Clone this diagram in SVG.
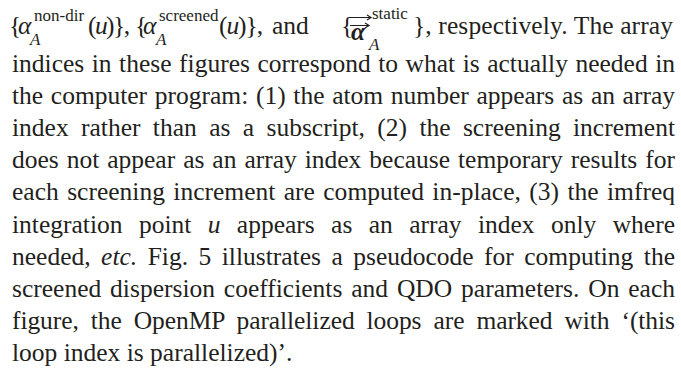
<svg xmlns="http://www.w3.org/2000/svg" width="681" height="368" viewBox="0 0 681 368">
<style>
text{font-family:"Liberation Serif","Times New Roman",serif;font-size:25.5px;fill:#231f20}
.it{font-style:italic}
.bi{font-style:italic;font-weight:bold}
.sm{font-size:17px}
.arr{stroke:#231f20;stroke-width:1.2;fill:none}
</style>
<rect width="681" height="368" fill="#ffffff"/>
<g id="line1">
<text x="9" y="34">{</text>
<text x="18" y="34" class="it" font-size="27">α</text>
<text x="34" y="21" class="sm">non-dir</text>
<text x="30" y="45" class="sm it">A</text>
<text x="88" y="34" textLength="42" lengthAdjust="spacing">(<tspan class="it">u</tspan>)},</text>
<text x="135" y="34">{</text>
<text x="143" y="34" class="it" font-size="27">α</text>
<text x="159" y="21" class="sm">screened</text>
<text x="156" y="45" class="sm it">A</text>
<text x="219" y="34" textLength="44" lengthAdjust="spacing">(<tspan class="it">u</tspan>)},</text>
<text x="272" y="34">and</text>
<text x="341" y="34">{</text>
<path class="arr" d="M349 17.5H371M367 15l4 2.5-4 2.5"/>
<text x="372" y="19" class="sm">static</text>
<path class="arr" d="M350 25.5H369M365 23l4 2.5-4 2.5"/>
<text x="351" y="40" class="bi">α</text>
<text x="369" y="50" class="sm it">A</text>
<text x="413" y="34" textLength="260" lengthAdjust="spacing">}, respectively. The array</text>
</g>
<g id="body">
<text x="12" y="72" word-spacing="1.1" textLength="663" lengthAdjust="spacing">indices in these figures correspond to what is actually needed in</text>
<text x="12" y="104.1" word-spacing="1.3" textLength="663" lengthAdjust="spacing">the computer program: (1) the atom number appears as an array</text>
<text x="12" y="136.2" word-spacing="6" textLength="663" lengthAdjust="spacing">index rather than as a subscript, (2) the screening increment</text>
<text x="12" y="168.3" word-spacing="1.6" textLength="663" lengthAdjust="spacing">does not appear as an array index because temporary results for</text>
<text x="12" y="200.4" word-spacing="2" textLength="663" lengthAdjust="spacing">each screening increment are computed in-place, (3) the imfreq</text>
<text x="12" y="232.5" word-spacing="10" textLength="663" lengthAdjust="spacing">integration point <tspan class="it">u</tspan> appears as an array index only where</text>
<text x="12" y="264.6" word-spacing="4.1" textLength="663" lengthAdjust="spacing">needed, <tspan class="it">etc.</tspan> Fig. 5 illustrates a pseudocode for computing the</text>
<text x="12" y="296.7" word-spacing="2.5" textLength="663" lengthAdjust="spacing">screened dispersion coefficients and QDO parameters. On each</text>
<text x="12" y="328.8" word-spacing="5.7" textLength="663" lengthAdjust="spacing">figure, the OpenMP parallelized loops are marked with ‘(this</text>
<text x="12" y="360.9">loop index is parallelized)’.</text>
</g>
</svg>
